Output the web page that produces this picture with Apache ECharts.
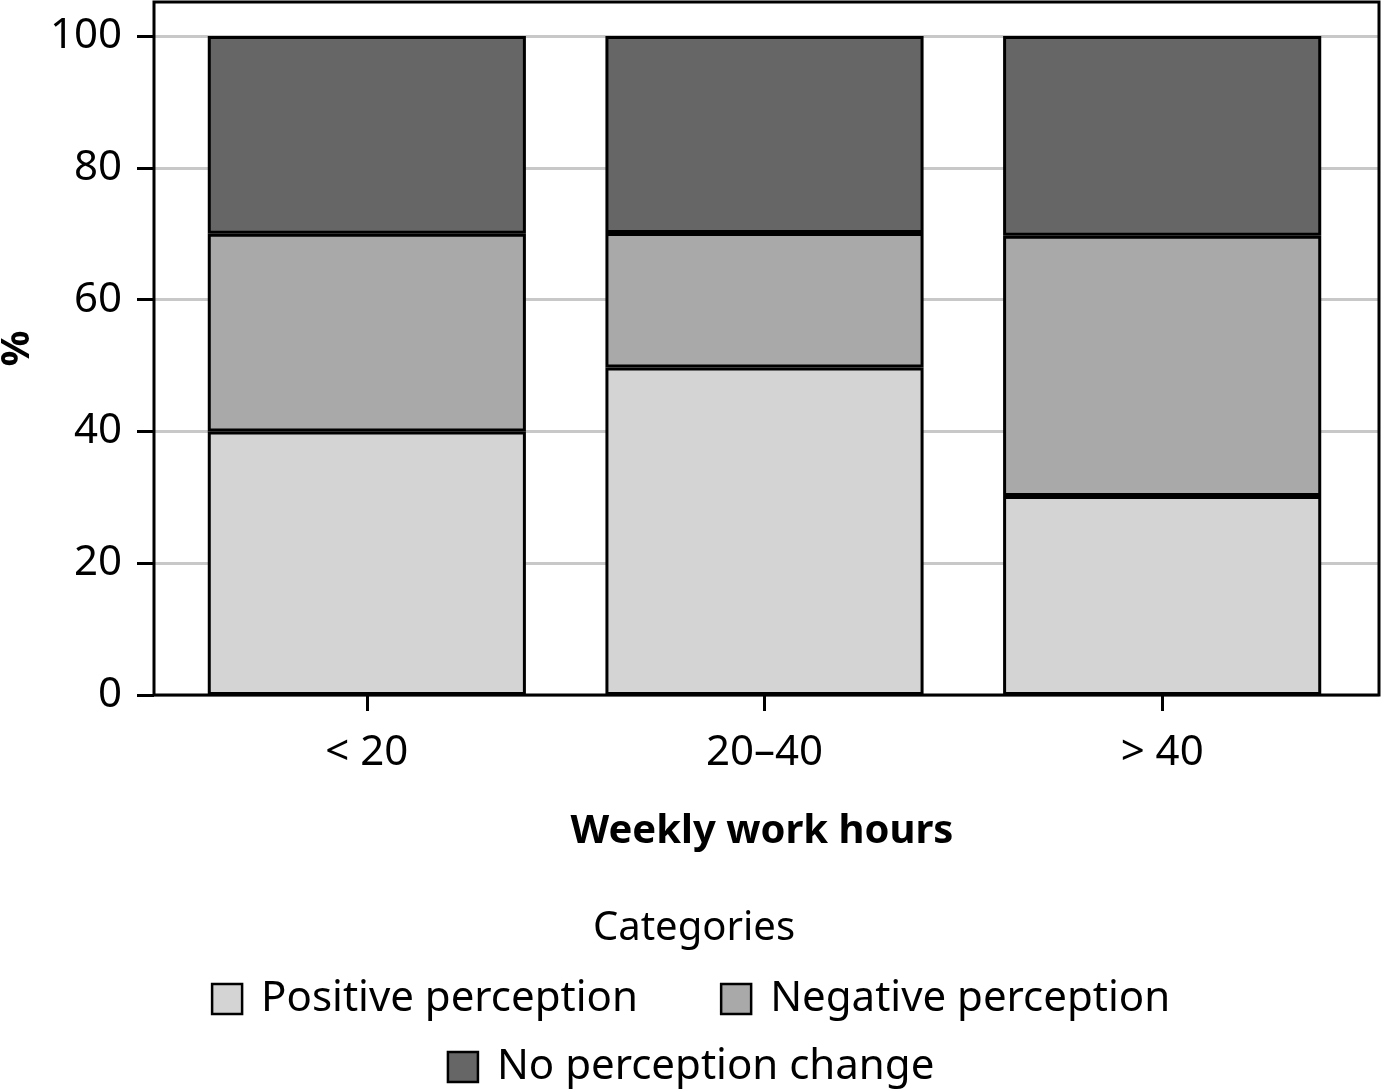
<!DOCTYPE html>
<html>
<head>
<meta charset="utf-8">
<script src="https://cdn.jsdelivr.net/npm/echarts@6/dist/echarts.min.js"></script>
<style>
html,body{margin:0;padding:0;background:#fff;}
#chart{width:1381px;height:1091px;}
</style>
</head>
<body>
<div id="chart"></div>
<script>
const categories = ['< 20', '20\u201340', '> 40'];
const positive = [40, 49.7, 30.2];
const negative = [30, 20.4, 39.5];
const noChange = [30, 29.9, 30.3];
const yTicks = [0, 20, 40, 60, 80, 100];
const seriesNames = ['Positive perception', 'Negative perception', 'No perception change'];

const FONT = 'Noto Sans';
const chart = echarts.init(document.getElementById('chart'));
const YMAX = 105.16;

const barStyle = (c) => ({ color: c, borderColor: '#000', borderWidth: 3 });

chart.setOption({
  animation: false,
  backgroundColor: '#fff',
  textStyle: { fontFamily: FONT },
  title: [
    { text: 'Weekly work hours', left: 757, top: 803, textAlign: 'center',
      textStyle: { fontFamily: FONT, fontSize: 40, fontWeight: 'bold', color: '#000', lineHeight: 48 } },
    { text: 'Categories', left: 689, top: 900, textAlign: 'center',
      textStyle: { fontFamily: FONT, fontSize: 40, fontWeight: 'normal', color: '#000', lineHeight: 48 } }
  ],
  grid: [
    { left: 154, top: 2, width: 1225, height: 693, show: true, borderColor: '#000', borderWidth: 3,
      backgroundColor: 'transparent', z: 3, containLabel: false, outerBoundsMode: 'none' },
    { left: 168, top: 2, width: 1193, height: 693, show: false, containLabel: false, outerBoundsMode: 'none' }
  ],
  legend: [
    { data: seriesNames.slice(0, 2), left: 'center', top: 973, itemWidth: 30, itemHeight: 30, itemGap: 82,
      icon: 'rect', itemStyle: { borderWidth: 2.5, borderColor: '#000' },
      textStyle: { fontFamily: FONT, fontSize: 42, color: '#000', lineHeight: 42, padding: [0, 0, 0, 14] } },
    { data: seriesNames.slice(2), left: 'center', top: 1041, itemWidth: 30, itemHeight: 30,
      icon: 'rect', itemStyle: { borderWidth: 2.5, borderColor: '#000' },
      textStyle: { fontFamily: FONT, fontSize: 42, color: '#000', lineHeight: 42, padding: [0, 0, 0, 14] } }
  ],
  xAxis: [
    { type: 'value', gridIndex: 0, show: false, min: 0, max: 1 },
    { type: 'category', gridIndex: 1, data: categories,
      axisLine: { show: false },
      axisTick: { show: true, alignWithLabel: true, length: 16, lineStyle: { color: '#000', width: 3 } },
      axisLabel: { fontFamily: FONT, fontSize: 42, color: '#000', margin: 37 },
      splitLine: { show: false } }
  ],
  yAxis: [
    { type: 'value', gridIndex: 0, min: 0, max: YMAX,
      name: '%', nameLocation: 'middle', nameGap: 116,
      nameTextStyle: { fontFamily: FONT, fontSize: 40, fontWeight: 'bold', color: '#000' },
      axisLine: { show: false },
      axisTick: { show: true, length: 17, customValues: yTicks, lineStyle: { color: '#000', width: 3 } },
      axisLabel: { fontFamily: FONT, fontSize: 42, color: '#000', margin: 32, customValues: yTicks },
      splitLine: { show: true, lineStyle: { color: '#c8c8c8', width: 3 } } },
    { type: 'value', gridIndex: 1, min: 0, max: YMAX, show: false, splitLine: { show: false } }
  ],
  series: [
    { name: seriesNames[0], type: 'bar', stack: 'total', xAxisIndex: 1, yAxisIndex: 1, barWidth: '80%',
      itemStyle: barStyle('#d4d4d4'), data: positive },
    { name: seriesNames[1], type: 'bar', stack: 'total', xAxisIndex: 1, yAxisIndex: 1, barWidth: '80%',
      itemStyle: barStyle('#a9a9a9'), data: negative },
    { name: seriesNames[2], type: 'bar', stack: 'total', xAxisIndex: 1, yAxisIndex: 1, barWidth: '80%',
      itemStyle: barStyle('#666666'), data: noChange }
  ]
});
</script>
</body>
</html>
